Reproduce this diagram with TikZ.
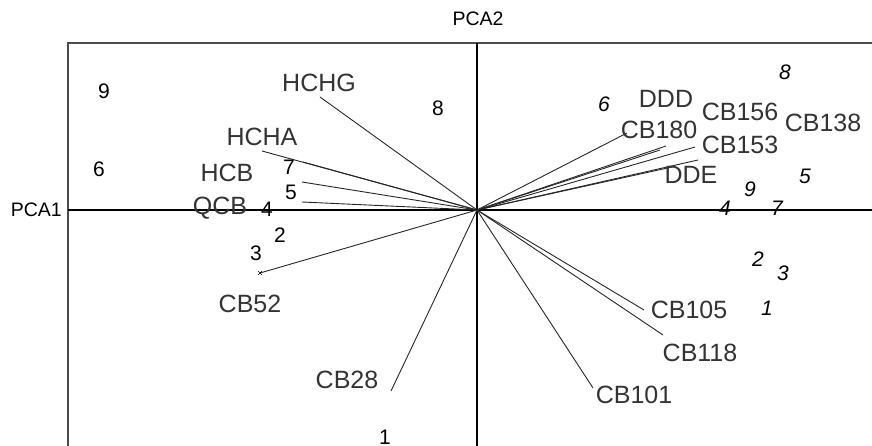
\documentclass[tikz,border=0pt]{standalone}
\usepackage{fontspec}
\setmainfont{Liberation Sans}
\begin{document}
\begin{tikzpicture}[x=1pt,y=-1pt,
  var/.style={font=\fontsize{25}{25}\selectfont, inner sep=0pt, text=black!80},
  num/.style={font=\fontsize{21}{21}\selectfont, inner sep=0pt},
  inum/.style={font=\fontsize{21}{21}\selectfont\itshape, inner sep=0pt},
  axlab/.style={font=\fontsize{19.5}{19.5}\selectfont, inner sep=0pt},
  load/.style={line width=0.9pt, black!85},
  plotframe/.style={line width=1.3pt, black!70},
  axisline/.style={line width=1.8pt}]
\useasboundingbox (0,0) rectangle (872,446);
% frame and axes
\coordinate (O) at (477,210);
\coordinate (TL) at (68,43); \coordinate (TR) at (872,43); \coordinate (BL) at (68,446);
\coordinate (AL) at (68,210); \coordinate (AR) at (872,210);
\coordinate (AT) at (477,43); \coordinate (AB) at (477,446);
\draw[plotframe] (TR) -- (TL) -- (BL);
\draw[axisline] (AL) -- (AR);
\draw[axisline] (AT) -- (AB);
\node[axlab, anchor=east] (pca1) at (62,210) {PCA1};
\node[axlab] (pca2) at (478,19) {PCA2};
% loading vector ends
\coordinate (eHCHG) at (320,97);
\coordinate (eHCHA) at (262,151);
\coordinate (eHCB) at (303,162);
\coordinate (eL5) at (302,182);
\coordinate (eQCB) at (302,202);
\coordinate (eCB52) at (260,273);
\coordinate (eCB28) at (391,391);
\coordinate (eCB101) at (593,388);
\coordinate (eCB118) at (663,335);
\coordinate (eCB105) at (644,310);
\coordinate (eCB180) at (627,133);
\coordinate (eDDD) at (666,146);
\coordinate (eDDDb) at (660,150);
\coordinate (eCB153) at (695,147);
\coordinate (eCB156) at (698,160);
\coordinate (eDDE) at (672,167);
\foreach \e in {eHCHG,eHCHA,eHCB,eL5,eQCB,eCB52,eCB28,eCB101,eCB118,eCB105,eCB180,eDDD,eDDDb,eCB153,eCB156,eDDE}
  \draw[load] (O) -- (\e);
\draw[line width=0.5pt] ([shift={(-2,-2)}]eCB52) -- ([shift={(2,2)}]eCB52)
  ([shift={(-2,2)}]eCB52) -- ([shift={(2,-2)}]eCB52);
% variable labels
\node[var] (HCHG) at (319,83) {HCHG};
\node[var] (HCHA) at (262,137) {HCHA};
\node[var] (HCB) at (227,173) {HCB};
\node[var] (QCB) at (220,208) {QCB};
\node[var] (CB52) at (250,304) {CB52};
\node[var] (CB28) at (347,380) {CB28};
\node[var] (CB101) at (634,395) {CB101};
\node[var] (CB118) at (700,353) {CB118};
\node[var] (CB105) at (689,310) {CB105};
\node[var] (CB180) at (659,130) {CB180};
\node[var] (DDD) at (666,99) {DDD};
\node[var] (CB156) at (740,112) {CB156};
\node[var] (CB138) at (823,123) {CB138};
\node[var] (CB153) at (740,145) {CB153};
\node[var] (DDE) at (691,175) {DDE};
% site scores (upright)
\node[num] (u9) at (104,91) {9};
\node[num] (u8) at (438,108) {8};
\node[num] (u6) at (99,169) {6};
\node[num] (u7) at (289,167) {7};
\node[num] (u5) at (291,192) {5};
\node[num] (u4) at (267,209) {4};
\node[num] (u2) at (280,235) {2};
\node[num] (u3) at (256,253) {3};
\node[num] (u1) at (385,437) {1};
% site scores (italic)
\node[inum] (i8) at (785,72) {8};
\node[inum] (i6) at (604,104) {6};
\node[inum] (i5) at (805,176) {5};
\node[inum] (i9) at (750,189) {9};
\node[inum] (i4) at (725,208) {4};
\node[inum] (i7) at (777,208) {7};
\node[inum] (i2) at (758,259) {2};
\node[inum] (i3) at (783,273) {3};
\node[inum] (i1) at (767,308) {1};
\end{tikzpicture}
\end{document}
